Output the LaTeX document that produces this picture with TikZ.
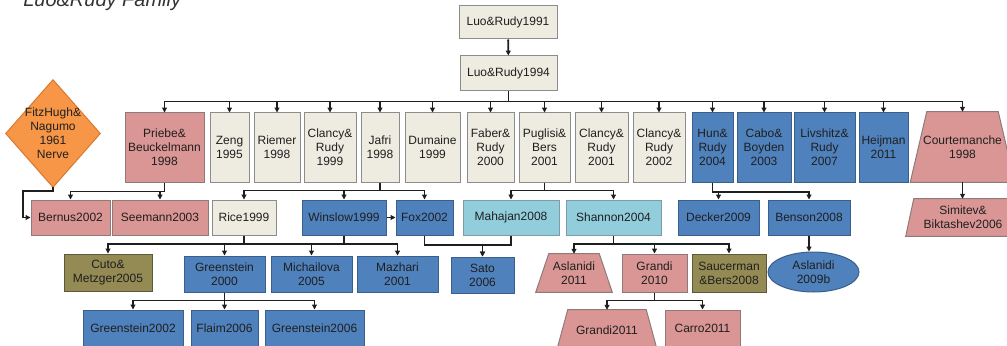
\documentclass[tikz,border=0pt]{standalone}
\usepackage{fontspec}
\setmainfont{Liberation Sans}
\usetikzlibrary{arrows.meta,shapes.geometric,backgrounds,calc}
\definecolor{beigeF}{HTML}{EEECE1}
\definecolor{beigeD}{HTML}{8C8C8C}
\definecolor{pinkF}{HTML}{DA9694}
\definecolor{pinkD}{HTML}{8F7A7A}
\definecolor{blueF}{HTML}{4F81BD}
\definecolor{blueD}{HTML}{3A5F8C}
\definecolor{lblueF}{HTML}{92CDDC}
\definecolor{lblueD}{HTML}{7F9CA6}
\definecolor{oliveF}{HTML}{948A54}
\definecolor{oliveD}{HTML}{5E583A}
\definecolor{orangeF}{HTML}{F79646}
\definecolor{orangeD}{HTML}{D9782E}
\definecolor{lineC}{HTML}{1E1E1E}
\begin{document}
\begin{tikzpicture}[x=0.75pt,y=-0.75pt,
 base/.style={inner sep=0pt,align=center,font=\fontsize{9}{10.5}\selectfont,text=black!88},
 bw/.style={minimum width=#1*0.75pt},
 bh/.style={minimum height=#1*0.75pt},
 bgbox/.style={base,draw=beigeD,fill=beigeF,line width=0.75pt},
 pkbox/.style={base,draw=pinkD,fill=pinkF,line width=0.75pt},
 blbox/.style={base,draw=blueD,fill=blueF,line width=0.75pt},
 lbbox/.style={base,draw=lblueD,fill=lblueF,line width=0.75pt},
 olbox/.style={base,draw=oliveD,fill=oliveF,line width=0.75pt},
 ghost/.style={base},
 pinkS/.style={draw=pinkD,fill=pinkF,line width=0.75pt},
 orangeS/.style={draw=orangeD,fill=orangeF,line width=0.75pt},
 arr/.style={draw=lineC,line width=0.8pt,-{Triangle[length=3.6pt,width=3.6pt]}},
 ln/.style={draw=lineC,line width=0.8pt},
 mainbus/.style={draw=lineC,line width=1.4pt},
]
\useasboundingbox (0,0) rectangle (1007,346);
\node[anchor=base west,inner sep=0pt,font=\fontsize{15}{18}\selectfont\itshape,text=black!80] (title) at (23,7) {Luo\&Rudy Family};

% top
\node[bgbox,bw=98,bh=33] (lr91) at (508,22.5) {Luo\&Rudy1991};
\node[bgbox,bw=97,bh=35] (lr94) at (508.5,73.5) {Luo\&Rudy1994};

% row 1
\node[ghost,bw=94,bh=107] (fitz) at (53,133.5) {FitzHugh\&\\Nagumo\\1961\\Nerve};
\node[pkbox,bw=79,bh=69] (priebe) at (164.5,147.5) {Priebe\&\\Beuckelmann\\1998};
\node[bgbox,bw=39,bh=69] (zeng) at (229.5,147.5) {Zeng\\1995};
\node[bgbox,bw=46,bh=69] (riemer) at (277,147.5) {Riemer\\1998};
\node[bgbox,bw=52,bh=69] (cl99) at (330,147.5) {Clancy\&\\Rudy\\1999};
\node[bgbox,bw=38,bh=69] (jafri) at (380,147.5) {Jafri\\1998};
\node[bgbox,bw=55,bh=69] (dumaine) at (432.5,147.5) {Dumaine\\1999};
\node[bgbox,bw=47,bh=69] (faber) at (490.5,147.5) {Faber\&\\Rudy\\2000};
\node[bgbox,bw=51,bh=69] (puglisi) at (544.5,147.5) {Puglisi\&\\Bers\\2001};
\node[bgbox,bw=53,bh=69] (cl01) at (601.5,147.5) {Clancy\&\\Rudy\\2001};
\node[bgbox,bw=52,bh=69] (cl02) at (659,147.5) {Clancy\&\\Rudy\\2002};
\node[blbox,bw=41,bh=69] (hun) at (712.5,147.5) {Hun\&\\Rudy\\2004};
\node[blbox,bw=54,bh=69] (cabo) at (764,147.5) {Cabo\&\\Boyden\\2003};
\node[blbox,bw=61,bh=69] (livshitz) at (824.5,147.5) {Livshitz\&\\Rudy\\2007};
\node[blbox,bw=49,bh=69] (heijman) at (883.5,147.5) {Heijman\\2011};
\node[ghost,bw=104,bh=70] (court) at (962.5,147) {Courtemanche\\1998};

% row 2
\node[pkbox,bw=79,bh=35] (bernus) at (70.5,217.5) {Bernus2002};
\node[pkbox,bw=96,bh=35] (seemann) at (160,217.5) {Seemann2003};
\node[bgbox,bw=64,bh=35] (rice) at (244,217.5) {Rice1999};
\node[blbox,bw=84,bh=35] (winslow) at (344,217.5) {Winslow1999};
\node[blbox,bw=57,bh=35] (fox) at (424.5,217.5) {Fox2002};
\node[lbbox,bw=96,bh=35] (mahajan) at (511,217.5) {Mahajan2008};
\node[lbbox,bw=95,bh=35] (shannon) at (613.5,217.5) {Shannon2004};
\node[blbox,bw=81,bh=35] (decker) at (718.5,217.5) {Decker2009};
\node[blbox,bw=82,bh=35] (benson) at (809,217.5) {Benson2008};
\node[ghost,bw=114,bh=37] (simitev) at (963,217.5) {Simitev\&\\Biktashev2006};

% row 3
\node[olbox,bw=88,bh=37] (cuto) at (108,272.5) {Cuto\&\\Metzger2005};
\node[blbox,bw=81,bh=36] (g00) at (224.5,274) {Greenstein\\2000};
\node[blbox,bw=81,bh=36] (michailova) at (311.5,274) {Michailova\\2005};
\node[blbox,bw=81,bh=36] (mazhari) at (397.5,274) {Mazhari\\2001};
\node[blbox,bw=63,bh=36] (sato) at (482.5,275) {Sato\\2006};
\node[ghost,bw=76,bh=38] (asl11) at (574,273) {Aslanidi\\2011};
\node[pkbox,bw=65,bh=38] (grandi10) at (654.5,273) {Grandi\\2010};
\node[olbox,bw=74,bh=38] (saucerman) at (729,273) {Saucerman\\\&Bers2008};
\node[blbox,ellipse,bw=91,bh=40] (asl09) at (813.5,272) {Aslanidi\\2009b};

% row 4
\node[blbox,bw=100,bh=37] (g02) at (133,328.5) {Greenstein2002};
\node[blbox,bw=67,bh=37] (flaim) at (224.5,328.5) {Flaim2006};
\node[blbox,bw=99,bh=37] (g06) at (314.5,328.5) {Greenstein2006};
\node[ghost,bw=100,bh=40] (grandi11) at (607,330) {Grandi2011};
\node[pkbox,bw=75,bh=37] (carro) at (702.5,328.5) {Carro2011};

% shaped outlines
\begin{scope}[on background layer]
\draw[orangeS] (fitz.north) -- (fitz.east) -- (fitz.south) -- (fitz.west) -- cycle;
\draw[pinkS] ($(court.north west)+(16.5,0)$) -- ($(court.north east)+(-16.5,0)$) -- (court.south east) -- (court.south west) -- cycle;
\draw[pinkS] ($(simitev.north west)+(8,0)$) -- ($(simitev.north east)+(-8,0)$) -- (simitev.south east) -- (simitev.south west) -- cycle;
\draw[pinkS] ($(asl11.north west)+(13,0)$) -- ($(asl11.north east)+(-13,0)$) -- (asl11.south east) -- (asl11.south west) -- cycle;
\draw[pinkS] ($(grandi11.north west)+(11,0)$) -- ($(grandi11.north east)+(-11,0)$) -- (grandi11.south east) -- (grandi11.south west) -- cycle;
\end{scope}

% bus levels
\coordinate (b0) at (0,101.5);
\coordinate (bP) at (0,191.5);
\coordinate (bJ) at (0,190.7);
\coordinate (bH) at (0,192);
\coordinate (bR) at (0,244);
\coordinate (bS) at (0,245);
\coordinate (bG) at (0,300.7);
\coordinate (bF) at (23,191);

% connectors
\draw[arr,line width=1.4pt] (lr91) -- (lr94);
\draw[mainbus] (lr94.south) -- (lr94.south |- b0);
\draw[mainbus] (priebe.north |- b0) -- (court.north |- b0);
\foreach \n in {priebe,zeng,riemer,cl99,jafri,dumaine,faber,puglisi,cl01,cl02,hun,cabo,livshitz,heijman,court}
  \draw[arr] (\n.north |- b0) -- (\n.north);

\draw[arr] (fitz.south) |- (bF) |- (bernus.west);
\foreach \n in {bernus,seemann}
  \draw[arr] (priebe.south) -- (priebe.south |- bP) -| (\n.north);
\foreach \n in {rice,winslow,fox}
  \draw[arr] (jafri.south) -- (jafri.south |- bJ) -| (\n.north);
\foreach \n in {mahajan,shannon}
  \draw[arr] (puglisi.south) -- (puglisi.south |- bJ) -| (\n.north);
\foreach \n in {decker,benson}
  \draw[arr] (hun.south) -- (hun.south |- bH) -| (\n.north);
\draw[arr] (court.south) -- (court.south |- simitev.north);
\draw[arr] (winslow.east) -- (fox.west);

\foreach \n in {cuto,g00}
  \draw[arr] (rice.south) -- (rice.south |- bR) -| (\n.north);
\foreach \n in {michailova,mazhari}
  \draw[arr] (winslow.south) -- (winslow.south |- bR) -| (\n.north);
\draw[ln] (rice.south |- bR) -- (winslow.south |- bR);
\draw[arr] (fox.south) -- (fox.south |- bS) -| (sato.north);
\draw[arr] (mahajan.south) -- (mahajan.south |- bS) -| (sato.north);
\foreach \n in {asl11,grandi10,saucerman}
  \draw[arr] (shannon.south) -- (shannon.south |- bR) -| (\n.north);
\draw[arr] (benson.south) -- (benson.south |- asl09.north);

\foreach \n in {g02,flaim,g06}
  \draw[arr] (g00.south) -- (g00.south |- bG) -| (\n.north);
\foreach \n in {grandi11,carro}
  \draw[arr] (grandi10.south) -- (grandi10.south |- bG) -| (\n.north);
\end{tikzpicture}
\end{document}
